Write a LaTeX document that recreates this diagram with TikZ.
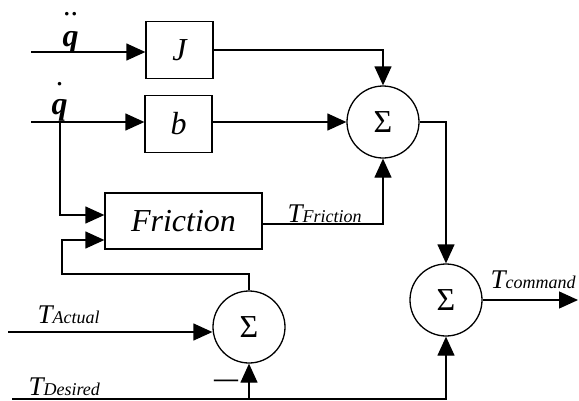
\documentclass[tikz,border=0pt]{standalone}
\usepackage{fontspec}
\setmainfont{Liberation Serif}
\usetikzlibrary{arrows.meta, positioning}

\newcommand{\fsz}[1]{\fontsize{#1}{#1}\selectfont}
% T with a subscript set on the same baseline
\newcommand{\tsig}[1]{{\fsz{27}\itshape T}{\fsz{18}\itshape #1}}

\begin{document}
\begin{tikzpicture}[x=1pt, y=-1pt, line width=1.3pt,
    >={Triangle[length=19pt, width=17pt]},
    blk/.style={draw, minimum height=57pt, font=\fsz{32}\itshape},
    sumnode/.style={draw, circle, minimum size=72pt, inner sep=0pt, font=\fsz{32}},
    lbl/.style={anchor=base west, inner sep=0pt},
    qlbl/.style={anchor=base west, inner sep=0pt, font=\fsz{32}\bfseries\itshape},
    dotlbl/.style={inner sep=0pt, font=\fsz{30}}]
  \useasboundingbox (0,0) rectangle (579,400);

  % blocks
  \node[blk, minimum width=67pt] (J) at (179.5,50) {J};
  \node[blk, minimum width=67pt] (b) at (178.5,124) {b};
  \node[blk, minimum width=157pt, minimum height=56pt] (fric) at (183.5,221) {Friction};
  \node[sumnode] (s1) at (383,122) {Σ};
  \node[sumnode] (s2) at (249,327) {Σ};
  \node[sumnode] (s3) at (446,300) {Σ};

  % input labels
  \node[qlbl] (qdd) at (62,46) {q};
  \node[dotlbl, above=14pt of qdd] (qdddots) {..};
  \node[qlbl] (qd) at (51,114) {q};
  \node[dotlbl, above=12pt of qd] (qddot) {.};
  \node[lbl] (tact) at (37,323) {\tsig{Actual}};
  \node[lbl] (tdes) at (28,395) {\tsig{Desired}};
  \node[lbl] (tfric) at (287,222) {\tsig{Friction}};
  \node[lbl] (tcmd) at (490,288) {\tsig{command}};
  \node[inner sep=0pt, font=\fsz{24}\bfseries] (minus) at (226,383) {—};

  % free ends
  \coordinate (qddin) at (31,52);
  \coordinate (qdin) at (31,122);
  \coordinate (br1) at (60,122);
  \coordinate (fb) at (62,274);
  \coordinate (ta) at (8,332);
  \coordinate (td) at (12,399);
  \coordinate (tc) at (578,300);

  % connectors
  \draw[->] (qddin) -- (J.west |- qddin);
  \draw[->] (qdin) -- (b.west |- qdin);
  \draw[->] (br1) |- ([yshift=6pt]fric.west);
  \draw[->] (s2.north) |- (fb) |- ([yshift=-19pt]fric.west);
  \draw[->] (J.east) -| (s1.north);
  \draw[->] (b.east |- s1) -- (s1.west);
  \draw[->] ([yshift=-3pt]fric.east) -| (s1.south);
  \draw[->] (s1.east) -| (s3.north);
  \draw[->] (ta) -- (ta -| s2.west);
  \draw[->] (td) -| (s3.south);
  \draw[->] (td -| s2.south) -- (s2.south);
  \draw[->] (s3.east) -- (tc);
\end{tikzpicture}
\end{document}
